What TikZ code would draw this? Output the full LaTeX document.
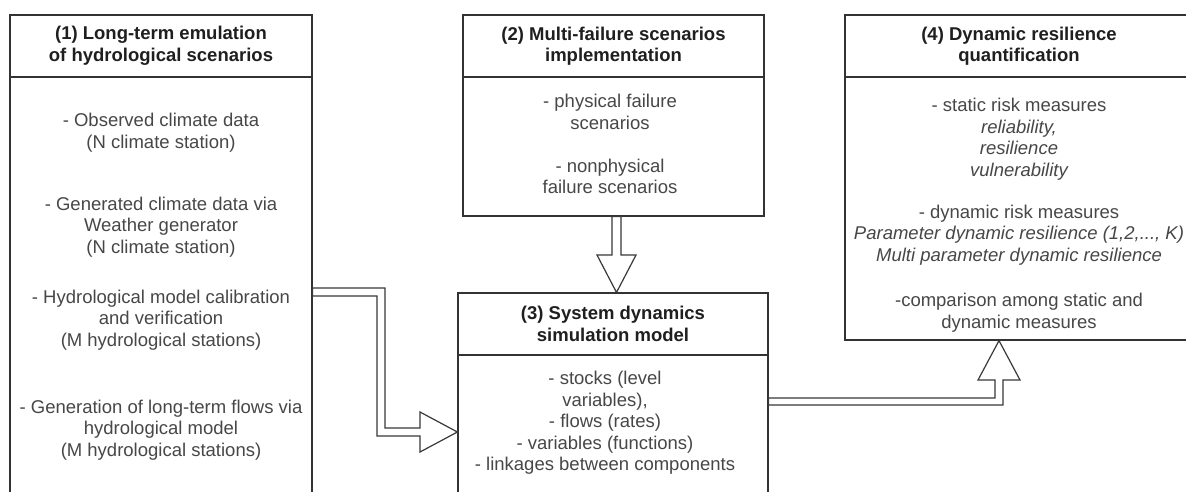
\documentclass[tikz,border=0pt]{standalone}
\usepackage{fontspec}
\setmainfont{Liberation Sans}
\usetikzlibrary{calc}
\begin{document}
\begin{tikzpicture}[x=1pt,y=-1pt,
  boxpart/.style={draw=black!80, line width=1.2pt, fill=white, rectangle, inner sep=0pt},
  ttl/.style={font=\fontsize{18.5}{21.5}\selectfont\bfseries, text=black!88, align=center},
  txt/.style={font=\fontsize{18.5}{21.5}\selectfont, text=black!72, align=center, inner sep=0pt},
  farrow/.style={draw=black!78, line width=1.2pt, fill=white, line join=miter}]
\useasboundingbox (0,0) rectangle (1186,491);
\clip (0,0) rectangle (1186,491);

% Box 1
\node[boxpart, ttl, minimum width=302pt, minimum height=62pt] (b1head) at (161,46)
  {(1) Long-term emulation\\of hydrological scenarios};
\node[boxpart, minimum width=302pt, minimum height=443pt] (b1body) at (161,298.5) {};
\node[txt] (b1p1) at (161,132.5) {- Observed climate data\\(N climate station)};
\node[txt] (b1p2) at (161,227) {- Generated climate data via\\Weather generator\\(N climate station)};
\node[txt] (b1p3) at (161,320) {- Hydrological model calibration\\and verification\\(M hydrological stations)};
\node[txt] (b1p4) at (161,430) {- Generation of long-term flows via\\hydrological model\\(M hydrological stations)};

% Box 2
\node[boxpart, ttl, minimum width=301pt, minimum height=62pt] (b2head) at (613.5,46)
  {(2) Multi-failure scenarios\\implementation};
\node[boxpart, minimum width=301pt, minimum height=139pt] (b2body) at (613.5,146.5) {};
\node[txt] (b2p1) at (610,112) {- physical failure\\scenarios};
\node[txt] (b2p2) at (610,176.5) {- nonphysical\\failure scenarios};

% Box 3
\node[boxpart, ttl, minimum width=310pt, minimum height=62pt] (b3head) at (613,324)
  {(3) System dynamics\\simulation model};
\node[boxpart, minimum width=310pt, minimum height=165pt] (b3body) at (613,437.5) {};
\node[txt] (b3p1) at (605,423) {- stocks (level\\variables),\\- flows (rates)\\- variables (functions)\\- linkages between components};

% Box 4
\node[boxpart, ttl, minimum width=348pt, minimum height=62pt] (b4head) at (1019,46)
  {(4) Dynamic resilience\\quantification};
\node[boxpart, minimum width=348pt, minimum height=263pt] (b4body) at (1019,208.5) {};
\node[txt] (b4p1) at (1019,139) {- static risk measures\\\itshape reliability,\\\itshape resilience\\\itshape vulnerability};
\node[txt] (b4p2) at (1019,235) {- dynamic risk measures\\\itshape Parameter dynamic resilience (1,2,..., K)\\\itshape Multi parameter dynamic resilience};
\node[txt] (b4p3) at (1019,312.5) {-comparison among static and\\dynamic measures};

% Arrow 1: box 1 -> box 3
\coordinate (s1) at (b1body.east |- 0,292);
\coordinate (t1) at (b3body.west |- 0,432);
\draw[farrow] ($(s1)+(0,-4)$) -- (385,288) -- (385,428) -- (420,428) -- (420,412) -- (t1)
  -- (420,452) -- (420,436) -- (377,436) -- (377,296) -- ($(s1)+(0,4)$) -- cycle;

% Arrow 2: box 2 -> box 3
\coordinate (s2) at (b2body.south -| 616.5,0);
\coordinate (t2) at (b3head.north -| 616.5,0);
\draw[farrow] ($(s2)+(-4.5,0)$) -- (612,255) -- (597,255) -- (t2) -- (636,255)
  -- (621,255) -- ($(s2)+(4.5,0)$) -- cycle;

% Arrow 3: box 3 -> box 4
\coordinate (s3) at (b3body.east |- 0,401.5);
\coordinate (t3) at (b4body.south -| 999,0);
\draw[farrow] ($(s3)+(0,-3.5)$) -- (995,398) -- (995,380) -- (978,380) -- (t3) -- (1020,380)
  -- (1003,380) -- (1003,405) -- ($(s3)+(0,3.5)$) -- cycle;
\end{tikzpicture}
\end{document}
